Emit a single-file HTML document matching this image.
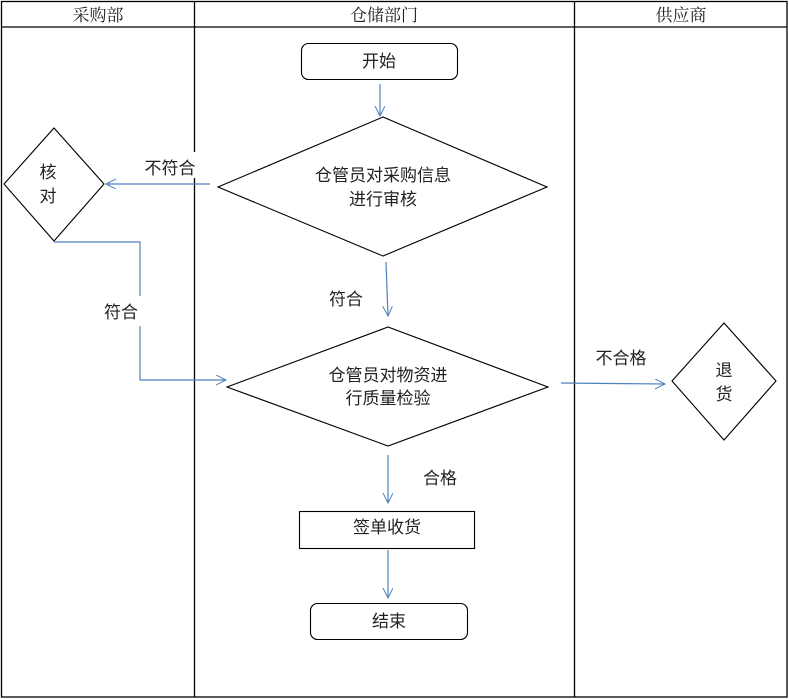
<!DOCTYPE html>
<html><head><meta charset="utf-8"><style>
html,body{margin:0;padding:0;background:#fff;}
svg{display:block;}
text{font-family:"Liberation Sans","Noto Sans CJK SC",sans-serif;font-size:17px;fill:#222;}
.h{font-family:"Liberation Serif","Noto Serif CJK SC",serif;font-size:17px;}
</style></head><body>
<svg width="789" height="699" viewBox="0 0 789 699" xmlns="http://www.w3.org/2000/svg">
<defs><marker id="a" markerWidth="12" markerHeight="12" refX="10" refY="5" orient="auto" markerUnits="userSpaceOnUse"><path d="M0,0 L10,5 L0,10" fill="none" stroke="#4f81bd" stroke-width="1"/></marker></defs>
<g stroke="#000" stroke-width="1.3" fill="none">
<rect x="1.5" y="1.5" width="785.5" height="695.5"/>
<line x1="1" y1="27" x2="787" y2="27"/>
<line x1="194.5" y1="1" x2="194.5" y2="697"/>
<line x1="574.5" y1="1" x2="574.5" y2="697"/>
</g>
<text class="h" x="98" y="21" text-anchor="middle">采购部</text>
<text class="h" x="384" y="21" text-anchor="middle">仓储部门</text>
<text class="h" x="681" y="21" text-anchor="middle">供应商</text>
<g stroke="#000" stroke-width="1.1" fill="#fff">
<rect x="301.5" y="43.5" width="156" height="36" rx="7"/>
<polygon points="218,187 383,117 547,187 383,256"/>
<polygon points="4,184 54,128 104,184 54,241"/>
<polygon points="227,387 388,327 548,387 388,446"/>
<polygon points="672,381 724,323 776,381 724,440"/>
<rect x="299.5" y="511.5" width="175" height="37"/>
<rect x="310.5" y="603.5" width="157" height="36" rx="7"/>
</g>
<g stroke="#4f81bd" stroke-width="1.2" fill="none" marker-end="url(#a)">
<line x1="380" y1="84" x2="380" y2="116"/>
<line x1="210" y1="184" x2="106" y2="184"/>
<polyline points="54,242 140,242 140,380 226,380"/>
<line x1="386" y1="262" x2="388" y2="316"/>
<line x1="561" y1="383" x2="665" y2="384"/>
<line x1="388" y1="455" x2="388" y2="503"/>
<line x1="388" y1="550" x2="388" y2="598"/>
</g>
<rect x="142" y="152" width="56" height="26" fill="#fff"/>
<rect x="102" y="296" width="46" height="30" fill="#fff"/>
<text x="170" y="174" text-anchor="middle">不符合</text>
<text x="121" y="318" text-anchor="middle">符合</text>
<text x="346" y="305" text-anchor="middle">符合</text>
<text x="621" y="364" text-anchor="middle">不合格</text>
<text x="440" y="484" text-anchor="middle">合格</text>
<text x="379" y="67" text-anchor="middle">开始</text>
<text x="383" y="181" text-anchor="middle">仓管员对采购信息</text>
<text x="383" y="205" text-anchor="middle">进行审核</text>
<text x="48" y="178" text-anchor="middle">核</text>
<text x="48" y="202" text-anchor="middle">对</text>
<text x="388" y="381" text-anchor="middle">仓管员对物资进</text>
<text x="388" y="404" text-anchor="middle">行质量检验</text>
<text x="724" y="376" text-anchor="middle">退</text>
<text x="724" y="400" text-anchor="middle">货</text>
<text x="387" y="533" text-anchor="middle">签单收货</text>
<text x="389" y="627" text-anchor="middle">结束</text>
</svg>
</body></html>
